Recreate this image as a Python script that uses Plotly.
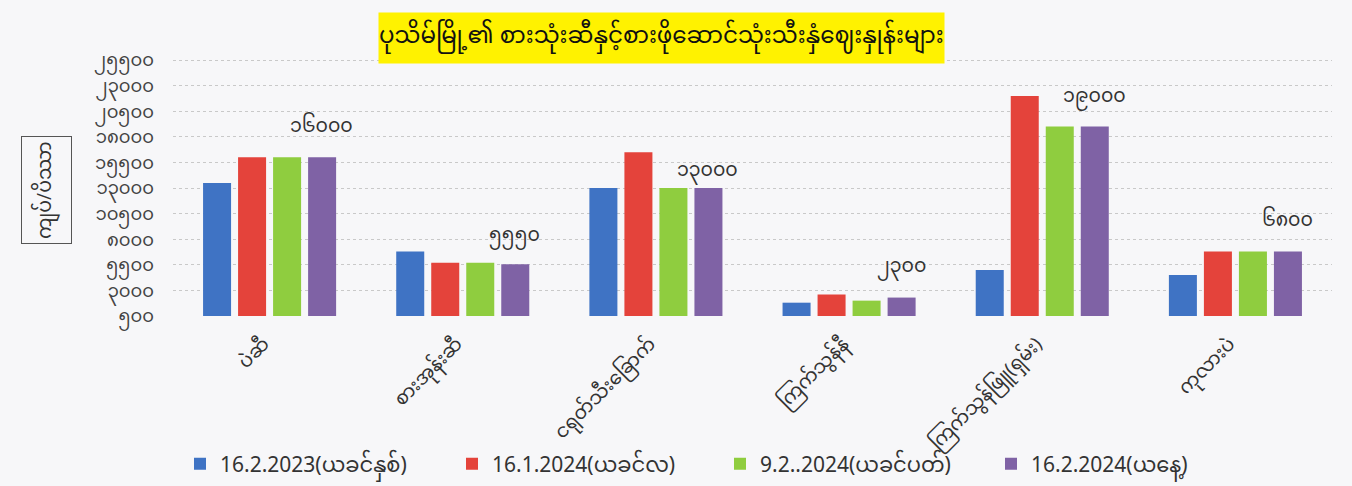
import plotly.graph_objects as go

# ---------------- data ----------------
categories = ["ပဲဆီ", "စားအုန်းဆီ", "ငရုတ်သီးခြောက်", "ကြက်သွန်နီ", "ကြက်သွန်ဖြူ(ရှမ်း)", "ကုလားပဲ"]
series_names = ["16.2.2023(ယခင်နှစ်)", "16.1.2024(ယခင်လ)", "9.2..2024(ယခင်ပတ်)", "16.2.2024(ယနေ့)"]
prices_2023_02_16 = [13500, 6800, 13000, 1800, 5000, 4500]
prices_2024_01_16 = [16000, 5700, 16500, 2600, 22000, 6800]
prices_2024_02_09 = [16000, 5700, 13000, 2000, 19000, 6800]
prices_2024_02_16 = [16000, 5550, 13000, 2300, 19000, 6800]
y_tick_values = [500, 3000, 5500, 8000, 10500, 13000, 15500, 18000, 20500, 23000, 25500]
axis_floor = 500
title_text = "ပုသိမ်မြို့၏ စားသုံးဆီနှင့်စားဖိုဆောင်သုံးသီးနှံဈေးနှုန်းများ"
y_title_text = "ကျပ်/ပိဿာ"

# ---------------- style ----------------
colors = ["#3f73c4", "#e4433b", "#8fcd3f", "#7f62a5"]
label_lift = [30, 28, 17, 30, 29, 30]
legend_text_x = [220, 492, 760, 1031]
MY_FONT = "Noto Sans Myanmar, Padauk, Myanmar Text, Noto Sans, sans-serif"
BG = "#f7f7f9"

MY_DIGITS = str.maketrans("0123456789", "၀၁၂၃၄၅၆၇၈၉")


def to_my(n):
    return str(n).translate(MY_DIGITS)


# plot area geometry (pixels)
L, R, T, B = 173, 20, 57, 170
W, H = 1352, 486
pw, ph = W - L - R, H - T - B


def px(xpix):
    return (xpix - L) / pw


def py(ypix):
    return (H - B - ypix) / ph


all_series = [prices_2023_02_16, prices_2024_01_16, prices_2024_02_09, prices_2024_02_16]

fig = go.Figure()
legend_ids = ["legend", "legend2", "legend3", "legend4"]
for name, vals, col, lid in zip(series_names, all_series, colors, legend_ids):
    fig.add_trace(go.Bar(
        x=categories, y=[v - axis_floor for v in vals], base=axis_floor, name=name,
        marker=dict(color=col, line=dict(width=0)),
        legend=lid,
    ))

# data labels above the latest series
for cat, v, lift in zip(categories, prices_2024_02_16, label_lift):
    fig.add_annotation(
        x=cat, y=v, xref="x", yref="y", text=to_my(v), showarrow=False,
        xshift=52, yshift=lift, yanchor="middle",
        font=dict(family=MY_FONT, size=19, color="#333333"),
    )

# title box
fig.add_annotation(
    x=px(661), y=py(38), xref="paper", yref="paper", text=title_text,
    showarrow=False, xanchor="center", yanchor="middle",
    bgcolor="#fff200", borderpad=0,
    font=dict(family=MY_FONT, size=23, color="#111111"),
)

# y-axis title box
fig.add_annotation(
    x=px(46), y=py(190), xref="paper", yref="paper", text=y_title_text,
    showarrow=False, textangle=-90, xanchor="center", yanchor="middle",
    bordercolor="#555555", borderwidth=1, borderpad=4,
    font=dict(family=MY_FONT, size=19, color="#333333"),
)

legend_common = dict(
    orientation="h", xanchor="left", yanchor="middle",
    font=dict(family=MY_FONT, size=21, color="#333333"),
    bgcolor="rgba(0,0,0,0)", itemwidth=30,
)
legends = {}
for lid, tx in zip(legend_ids, legend_text_x):
    legends[lid] = dict(legend_common, x=px(tx - 40), y=py(464))

fig.update_layout(
    width=W, height=H,
    margin=dict(l=L, r=R, t=T, b=B, autoexpand=False),
    paper_bgcolor=BG, plot_bgcolor=BG,
    barmode="group", bargap=0.275, bargroupgap=0.2,
    showlegend=True,
    xaxis=dict(
        type="category", tickangle=-45, showgrid=False, showline=False,
        ticks="", tickfont=dict(family=MY_FONT, size=19, color="#333333"),
        ticklabelstandoff=12, ticklabelshift=-6,
        automargin=False,
    ),
    yaxis=dict(
        range=[axis_floor, 25800], tickvals=y_tick_values,
        ticktext=[to_my(v) for v in y_tick_values],
        showgrid=True, gridcolor="#c9c9c9", griddash="dot", gridwidth=1,
        zeroline=False, showline=False, ticks="",
        tickfont=dict(family=MY_FONT, size=18, color="#444444"),
        ticklabelstandoff=18,
        automargin=False,
    ),
    **legends,
)

fig.write_html(
    "out.html",
    config={"displayModeBar": False},
    post_script="document.body.style.margin='0px';document.body.style.overflow='hidden';",
)
